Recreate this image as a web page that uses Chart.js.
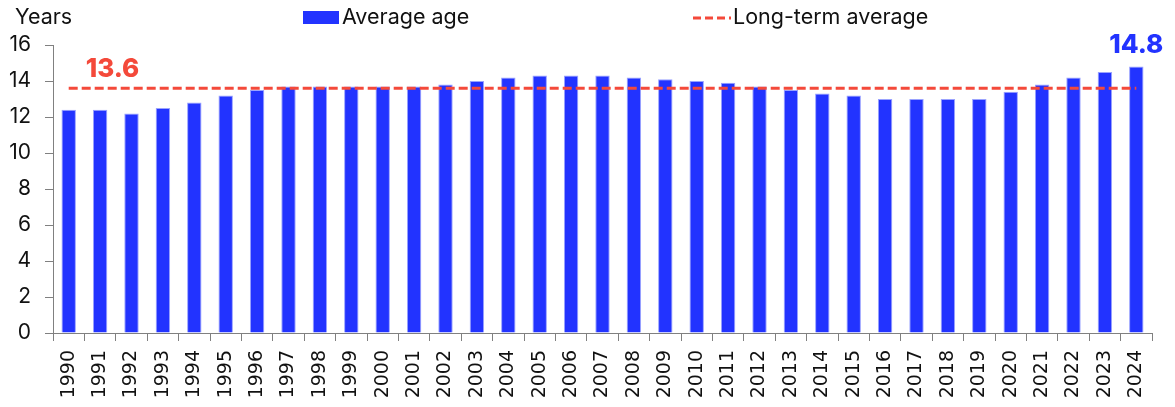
<!DOCTYPE html>
<html>
<head>
<meta charset="utf-8">
<script src="https://cdn.jsdelivr.net/npm/chart.js@4.4.1/dist/chart.umd.min.js"></script>
<style>
html,body{margin:0;padding:0;background:#fff;}
#wrap{position:relative;width:1175px;height:407px;}
</style>
</head>
<body>
<div id="wrap"><canvas id="c" width="1175" height="407"></canvas></div>
<script>
const years = ["1990","1991","1992","1993","1994","1995","1996","1997","1998","1999","2000","2001","2002","2003","2004","2005","2006","2007","2008","2009","2010","2011","2012","2013","2014","2015","2016","2017","2018","2019","2020","2021","2022","2023","2024"];
const averageAge = [12.4,12.4,12.2,12.5,12.8,13.2,13.5,13.7,13.7,13.7,13.7,13.7,13.8,14.0,14.2,14.3,14.3,14.3,14.2,14.1,14.0,13.9,13.7,13.5,13.3,13.2,13.0,13.0,13.0,13.0,13.4,13.8,14.2,14.5,14.8];
const longTermAverageValue = 13.6;
const longTermAverage = years.map(() => longTermAverageValue);
const yTicks = [0,2,4,6,8,10,12,14,16];
const seriesNames = ["Average age","Long-term average"];
const axisTitle = "Years";

const BLUE = "#2233ff";
const RED = "#f4493a";
const UI_FONT = "Inter, 'Noto Sans', sans-serif";

const overlay = {
  id: 'overlay',
  afterDraw(chart) {
    const ctx = chart.ctx;
    const xs = chart.scales.x, ys = chart.scales.y;
    ctx.save();
    ctx.fillStyle = "#111";
    ctx.font = "21.5px " + UI_FONT;
    ctx.textBaseline = "alphabetic";
    ctx.textAlign = "left";
    ctx.fillText(axisTitle, 15, 24);
    ctx.fillStyle = BLUE;
    ctx.fillRect(303, 11, 36, 13);
    ctx.fillStyle = "#111";
    ctx.fillText(seriesNames[0], 342, 24);
    ctx.strokeStyle = RED;
    ctx.lineWidth = 3;
    ctx.setLineDash([8,4]);
    ctx.beginPath();
    ctx.moveTo(693, 18);
    ctx.lineTo(731, 18);
    ctx.stroke();
    ctx.setLineDash([]);
    ctx.fillStyle = "#111";
    ctx.fillText(seriesNames[1], 733, 24);
    ctx.font = "800 26px " + UI_FONT;
    ctx.fillStyle = RED;
    ctx.textAlign = "left";
    ctx.fillText(longTermAverageValue.toFixed(1), xs.getPixelForValue(0) + 17, ys.getPixelForValue(longTermAverageValue) - 11);
    const last = averageAge.length - 1;
    ctx.fillStyle = BLUE;
    ctx.textAlign = "center";
    ctx.fillText(averageAge[last].toFixed(1), xs.getPixelForValue(last), ys.getPixelForValue(averageAge[last]) - 14);
    ctx.restore();
  }
};

new Chart(document.getElementById('c'), {
  data: {
    labels: years,
    datasets: [
      {
        type: 'line',
        label: seriesNames[1],
        data: longTermAverage,
        borderColor: RED,
        borderWidth: 3,
        borderDash: [9,4],
        pointRadius: 0,
        fill: false,
        order: 0
      },
      {
        type: 'bar',
        label: seriesNames[0],
        data: averageAge,
        backgroundColor: BLUE,
        borderColor: "#9aa3ff",
        borderWidth: 1,
        barPercentage: 0.46,
        categoryPercentage: 1.0,
        order: 1
      }
    ]
  },
  options: {
    responsive: false,
    animation: false,
    devicePixelRatio: 1,
    layout: { padding: { top: 45, left: 6, right: 23, bottom: 0 } },
    plugins: { legend: { display: false }, tooltip: { enabled: false } },
    scales: {
      x: {
        type: 'category',
        offset: true,
        afterFit(scale) { scale.height = 74; },
        grid: { display: true, drawOnChartArea: false, drawTicks: true, tickLength: 8, offset: true, color: "#808080" },
        border: { display: true, color: "#808080", width: 1 },
        ticks: {
          color: "#111",
          font: { family: "'DejaVu Sans', sans-serif", size: 19 },
          minRotation: 90, maxRotation: 90,
          autoSkip: false,
          padding: 9
        }
      },
      y: {
        min: 0, max: 16,
        afterBuildTicks(scale) { scale.ticks = yTicks.map(v => ({ value: v })); },
        afterFit(scale) { scale.width = 47; },
        grid: { display: true, drawOnChartArea: false, drawTicks: true, tickLength: 8, color: "#808080" },
        border: { display: true, color: "#808080", width: 1 },
        ticks: {
          color: "#111",
          font: { family: UI_FONT, size: 21 },
          padding: 14
        }
      }
    }
  },
  plugins: [overlay]
});
</script>
</body>
</html>
